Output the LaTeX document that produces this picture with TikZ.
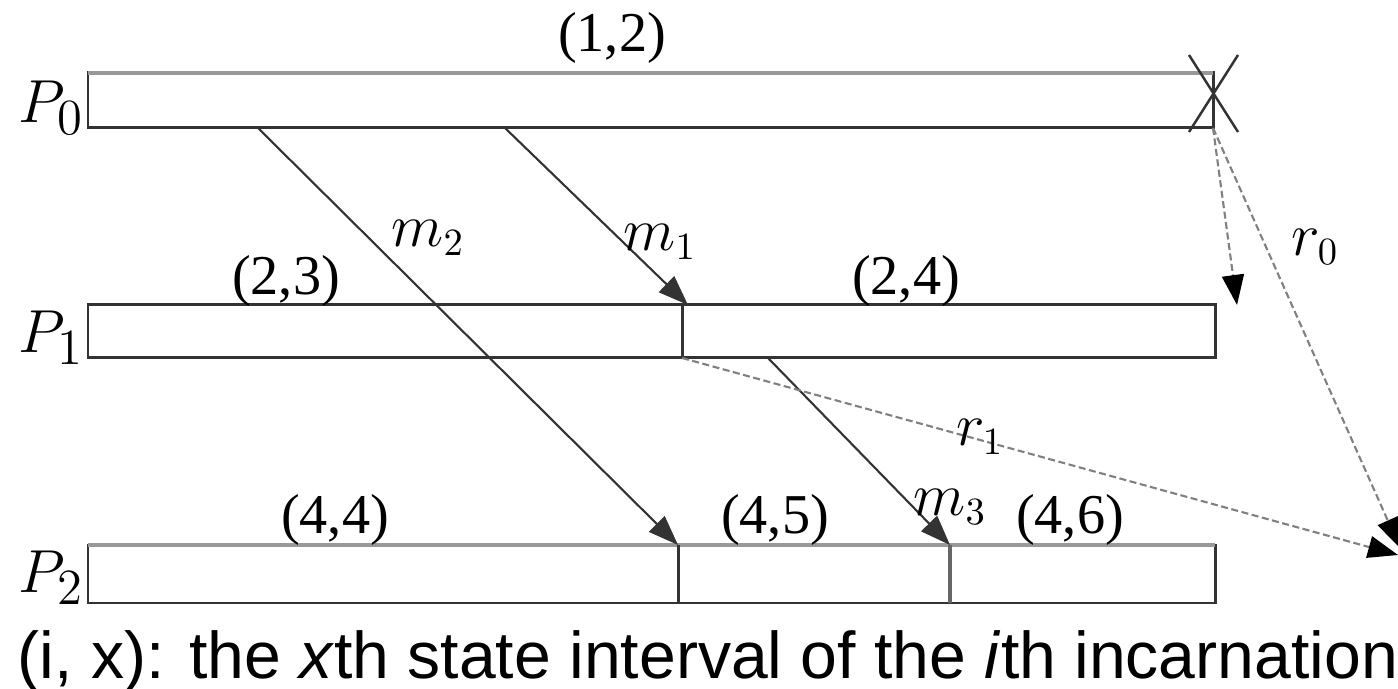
\documentclass[tikz,border=0pt]{standalone}
\usepackage{fontspec}
\setmainfont{Liberation Serif}
\newfontfamily\capfont{Liberation Sans}
\usetikzlibrary{arrows.meta}

\begin{document}
\begin{tikzpicture}[
  x=0.01cm,y=-0.01cm,
  box/.style={draw=black!80,line width=0.85pt},
  topln/.style={draw=black!40,line width=1.1pt},
  msg/.style={-{Triangle[length=3mm,width=2.2mm]},draw=black!80,line width=0.6pt},
  rb/.style={-{Triangle[length=3mm,width=2.2mm,color=black]},draw=black!50,line width=0.6pt,dash pattern=on 2pt off 1pt},
  lb/.style={font=\fontsize{16}{16}\selectfont,inner sep=1pt},
  pl/.style={font=\fontsize{19}{19}\selectfont,inner sep=1pt}
]
\useasboundingbox (0,0) rectangle (1398,689);
% process timelines
\draw[box] (88,73) rectangle (1213,128);
\draw[topln] (88,73) -- (1213,73);
\draw[box] (88,305) rectangle (1215,358);
\draw[box] (682,305) -- (682,358);
\draw[box] (88,545) rectangle (1215,603);
\draw[topln] (88,545) -- (1215,545);
\draw[box] (678,545) -- (678,603);
\draw[box,draw=black!60,line width=1.3pt] (950,545) -- (950,603);
% failure of P0
\draw[box,line width=0.7pt] (1189,55) -- (1238,132);
\draw[box,line width=0.7pt] (1238,55) -- (1189,132);
\node[pl,anchor=east] (p0) at (88,108) {$P_0$};
\node[pl,anchor=east] (p1) at (88,338) {$P_1$};
\node[pl,anchor=east] (p2) at (88,578) {$P_2$};
% intervals
\node[lb] (i12) at (612,38) {(1,2)};
\node[lb] (i23) at (286,281) {(2,3)};
\node[lb] (i24) at (906,281) {(2,4)};
\node[lb] (i44) at (335,520) {(4,4)};
\node[lb] (i45) at (775,520) {(4,5)};
\node[lb] (i46) at (1070,520) {(4,6)};
% message end points
\coordinate (m2s) at (258,128);
\coordinate (m2e) at (678,545);
\coordinate (m1s) at (505,128);
\coordinate (m1e) at (688,305);
\coordinate (m3s) at (768,358);
\coordinate (m3e) at (950,545);
\coordinate (f0) at (1213,128);
\coordinate (r0a) at (1237,305);
\coordinate (r0b) at (1400,548);
\coordinate (r1s) at (682,358);
\coordinate (r1e) at (1398,555);
\draw[msg] (m2s) -- (m2e);
\draw[msg] (m1s) -- (m1e);
\draw[msg] (m3s) -- (m3e);
\draw[rb] (f0) -- (r0a);
\draw[rb] (f0) -- (r0b);
\draw[rb] (r1s) -- (r1e);
\node[lb] (lm2) at (428,238) {$m_2$};
\node[lb] (lm1) at (660,242) {$m_1$};
\node[lb] (lm3) at (950,507) {$m_3$};
\node[lb] (lr0) at (1315,247) {$r_0$};
\node[lb] (lr1) at (980,437) {$r_1$};
\node[font=\capfont\fontsize{18.8}{18.8}\selectfont,inner sep=0pt,anchor=base west] (cap) at (17,678)
  {(i, x): the \textit{x}th state interval of the \textit{i}th incarnation};
\end{tikzpicture}
\end{document}
